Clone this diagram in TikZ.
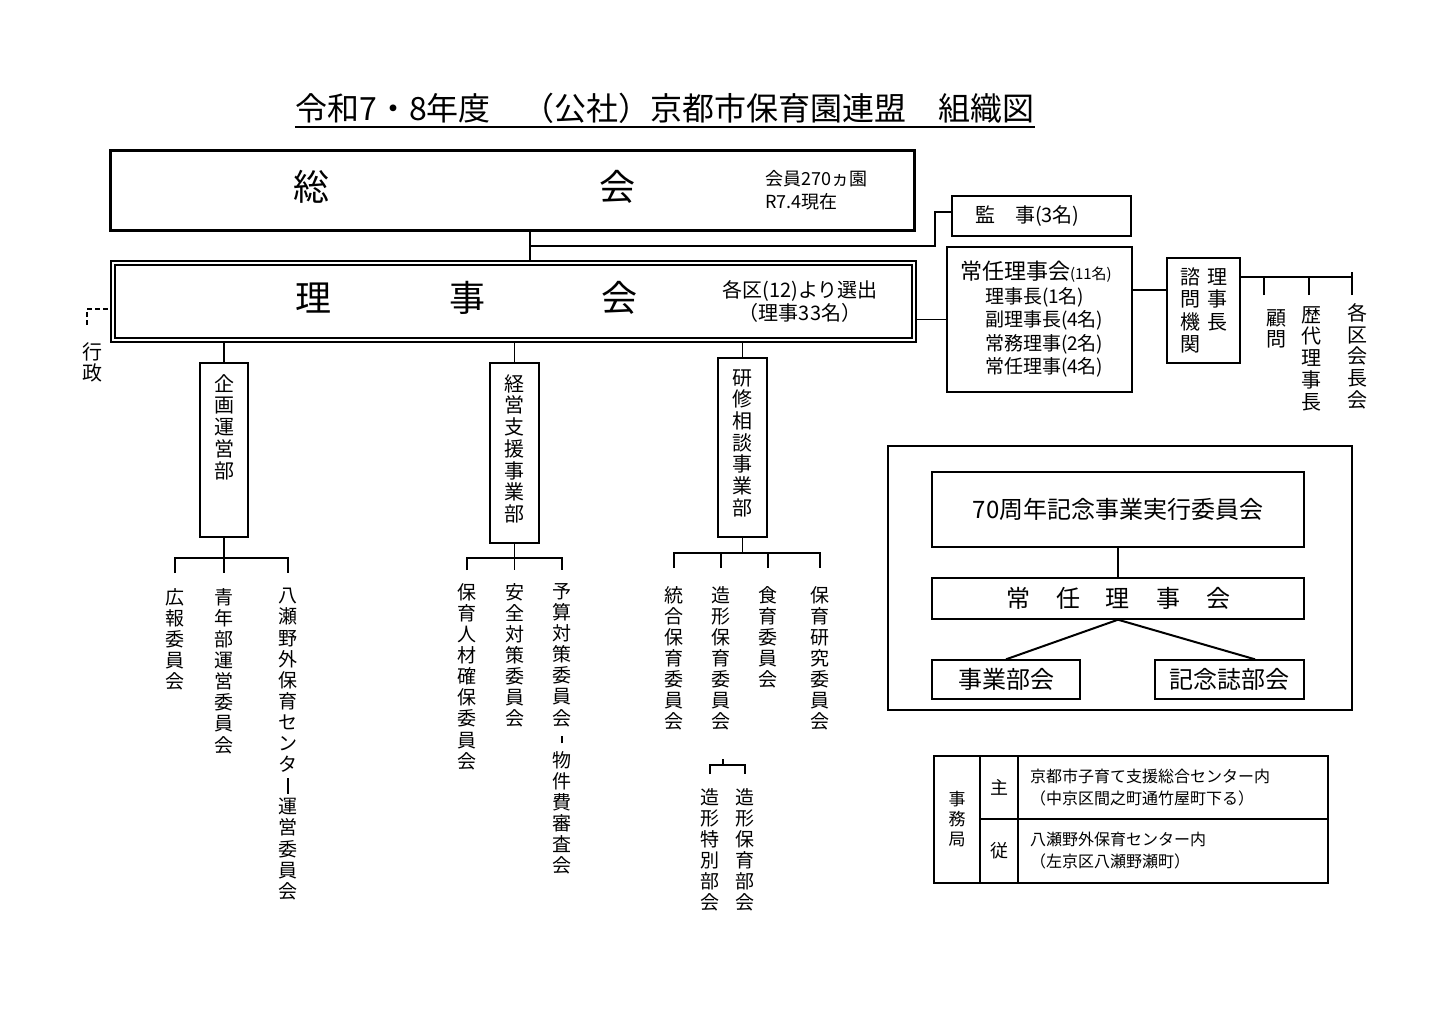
\documentclass[tikz,border=0pt]{standalone}
\usepackage{fontspec}
\usepackage{graphicx}
\setmainfont{Noto Sans CJK JP}
\usetikzlibrary{positioning}

% vertical forms for tategaki labels
\newcommand{\tbar}{\rule[-0.05em]{0.07em}{0.85em}}
\newcommand{\tdash}{\rule[0.15em]{0.07em}{0.4em}}

\tikzset{
  conn/.style={line width=0.8pt},
  hbox/.style={draw, line width=1.5pt},
  dbox/.style={draw, line width=0.8pt, double, double distance=1.4pt, outer sep=1.5pt},
  bbox/.style={draw, line width=1pt},
  tbox/.style={draw, line width=0.7pt},
  tate/.style={align=center, anchor=north, font=\fontsize{9.5}{10.55}\selectfont},
  tateb/.style={tate, font=\fontsize{10}{10.85}\selectfont},
  big/.style={font=\fontsize{18}{20}\selectfont},
  mid/.style={font=\fontsize{12}{14}\selectfont},
}

\begin{document}
\begin{tikzpicture}[x=0.5pt, y=-0.5pt, every node/.append style={inner sep=0pt}]
\useasboundingbox (0,0) rectangle (1440,1024);

% title
\node[anchor=base, font=\fontsize{16}{18}\selectfont] (title) at (665,120) {令和7・8年度　（公社）京都市保育園連盟　組織図};
\draw[line width=1pt] ([yshift=-3.5pt]title.base west) -- ([yshift=-3.5pt]title.base east);

% general meeting
\node[hbox, minimum width=402pt, minimum height=40pt] (sokai) at (512,190) {};
\node[big] (sokai1) at (311,187) {総};
\node[big] (sokai2) at (617,187) {会};
\node[anchor=west, align=left, font=\fontsize{9}{11.5}\selectfont] (sokainote) at (765,190) {会員270ヵ園\\R7.4現在};

% board
\node[dbox, minimum width=400.5pt, minimum height=38.5pt] (riji) at (513.5,301.5) {};
\node[big] (riji1) at (313,298) {理};
\node[big] (riji2) at (467,298) {事};
\node[big] (riji3) at (619,298) {会};
\node[align=center, font=\fontsize{10}{11.5}\selectfont] (rijinote) at (800,301.5) {各区(12)より選出\\（理事33名）};

% auditors and standing board
\node[bbox, minimum height=20pt, text width=66.5pt, inner xsep=11.5pt, align=left, font=\fontsize{10}{12}\selectfont] (kanji) at (1041.5,216) {監　事(3名)};
\node[bbox, minimum height=72.5pt, text width=79.5pt, inner xsep=6.5pt, align=left, font=\fontsize{9.5}{11.75}\selectfont] (jonin) at (1039.5,319.5)
  {{\fontsize{11}{11.75}\selectfont 常任理事会}{\fontsize{7.5}{11.75}\selectfont (11名)}\\
   \hspace*{12.5pt}理事長(1名)\\
   \hspace*{12.5pt}副理事長(4名)\\
   \hspace*{12.5pt}常務理事(2名)\\
   \hspace*{12.5pt}常任理事(4名)};
\node[bbox, minimum width=36.5pt, minimum height=52.5pt, align=center, font=\fontsize{10}{11.25}\selectfont] (shimon) at (1203.5,310.5)
  {諮\hspace{3.5pt}理\\問\hspace{3.5pt}事\\機\hspace{3.5pt}長\\関\hspace{3.5pt}\phantom{長}};

\coordinate (jc) at (530,246);
\draw[conn] (sokai.south -| jc) -- (riji.north -| jc);
\draw[conn] (jc) -| ([xshift=-8pt,yshift=2pt]kanji.west) -- ([yshift=2pt]kanji.west);
\draw[conn] (jonin.west) -- (jonin.west -| riji.east);
\coordinate (sc) at (1150,290);
\draw[conn] (jonin.east |- sc) -- (shimon.west |- sc);

% advisory members
\node[tateb] (komon) at (1276,309) {顧\\問};
\node[tateb] (rekidai) at (1311,306) {歴\\代\\理\\事\\長};
\node[tateb] (kakku) at (1357,303) {各\\区\\会\\長\\会};
\coordinate (sr) at (1352,277);
\coordinate (t1) at (1264,295);
\coordinate (t2) at (1309,295);
\coordinate (t3) at (1352,295);
\draw[conn] (shimon.east |- sr) -- (sr);
\draw[conn] (t1) -- (t1 |- sr);
\draw[conn] (t2) -- (t2 |- sr);
\draw[conn] (t3) -- ([yshift=2.5pt]sr);

% administration
\node[tateb] (gyosei) at (92,342) {行\\政};
\coordinate (gy) at (87,325);
\draw[conn, dash pattern=on 2.5pt off 1.5pt] (gy) |- ([yshift=-3.75pt]riji.west);

% departments
\node[bbox, minimum width=24pt, minimum height=87pt] (kikaku) at (224,450) {};
\node[tateb, below=6pt of kikaku.north] (kikakutxt) {企\\画\\運\\営\\部};
\node[bbox, minimum width=24.5pt, minimum height=90pt] (keiei) at (514.5,453) {};
\node[tateb, below=6pt of keiei.north] (keieitxt) {経\\営\\支\\援\\事\\業\\部};
\node[bbox, minimum width=24.5pt, minimum height=89.5pt] (kenshu) at (742.5,447.5) {};
\node[tateb, below=6pt of kenshu.north] (kenshutxt) {研\\修\\相\\談\\事\\業\\部};
\draw[conn] (kikaku.north) -- (kikaku.north |- riji.south);
\draw[conn] (keiei.north) -- (keiei.north |- riji.south);
\draw[conn] (kenshu.north) -- (kenshu.north |- riji.south);

% committees: planning
\node[tate] (kouhou) at (175,588) {広\\報\\委\\員\\会};
\node[tate] (seinen) at (224,588) {青\\年\\部\\運\\営\\委\\員\\会};
\node[tate] (yase) at (288,588) {八\\瀬\\野\\外\\保\\育\\セ\\ン\\タ\\\tbar\\運\\営\\委\\員\\会};
\coordinate (g1) at (224,558);
\draw[conn] (kikaku.south) -- (g1);
\draw[conn] ([yshift=7.5pt]kouhou.north) |- (g1) -| ([yshift=7.5pt]yase.north);
\draw[conn] (g1) -- ([yshift=7.5pt]seinen.north);

% committees: management support
\node[tate] (jinzai) at (467,583) {保\\育\\人\\材\\確\\保\\委\\員\\会};
\node[tate] (anzen) at (514.5,583) {安\\全\\対\\策\\委\\員\\会};
\node[tate] (yosan) at (562,583) {予\\算\\対\\策\\委\\員\\会\\\tdash\\物\\件\\費\\審\\査\\会};
\coordinate (g2) at (514.5,558);
\draw[conn] (keiei.south) -- (g2);
\draw[conn] ([yshift=6.5pt]jinzai.north) |- (g2) -| ([yshift=6.5pt]yosan.north);
\draw[conn] (g2) -- ([yshift=6.5pt]anzen.north);

% committees: training
\node[tate] (tougou) at (674,586) {統\\合\\保\\育\\委\\員\\会};
\node[tate] (zokei) at (721,586) {造\\形\\保\\育\\委\\員\\会};
\node[tate] (shokuiku) at (768,586) {食\\育\\委\\員\\会};
\node[tate] (kenkyu) at (820,586) {保\\育\\研\\究\\委\\員\\会};
\coordinate (g3) at (742.5,553);
\draw[conn] (kenshu.south) -- (g3);
\draw[conn] ([yshift=9pt]tougou.north) |- (g3) -| ([yshift=9pt]kenkyu.north);
\draw[conn] ([yshift=9pt]zokei.north) -- (zokei.north |- g3);
\draw[conn] ([yshift=9pt]shokuiku.north) -- (shokuiku.north |- g3);

\node[tate] (zokeitoku) at (710,788) {造\\形\\特\\別\\部\\会};
\node[tate] (zokeibu) at (745,788) {造\\形\\保\\育\\部\\会};
\coordinate (zk) at (723,759);
\draw[conn] (zk) -- ++(0,6) coordinate (zk1);
\draw[conn] ([yshift=7pt]zokeitoku.north) |- (zk1) -| ([yshift=7pt]zokeibu.north);

% 70th anniversary
\node[draw, line width=1.2pt, minimum width=232pt, minimum height=132pt] (kinenbox) at (1120,578) {};
\node[tbox, mid, minimum width=186pt, minimum height=37.5pt] (kinen70) at (1118,509.5) {70周年記念事業実行委員会};
\node[tbox, mid, minimum width=186pt, minimum height=20.5pt] (jonin2) at (1118,598.5) {常\hspace{13pt}任\hspace{13pt}理\hspace{13pt}事\hspace{13pt}会};
\node[tbox, mid, minimum width=74pt, minimum height=19.5pt] (jigyo) at (1006,679.5) {事業部会};
\node[tbox, mid, minimum width=74.5pt, minimum height=19.5pt] (kinenshi) at (1229.5,679.5) {記念誌部会};
\draw[line width=1pt] (kinen70.south) -- (jonin2.north);
\draw[line width=1pt] (jigyo.north) -- (jonin2.south) -- ([xshift=12.75pt]kinenshi.north);

% secretariat
\node[tbox, minimum width=23pt, minimum height=63.5pt, align=center, font=\fontsize{8.5}{10}\selectfont] (jimu) at (957,819.5) {事\\務\\局};
\node[tbox, minimum width=19pt, minimum height=31.5pt, font=\fontsize{9}{10}\selectfont] (shu) at (999,787.5) {主};
\node[tbox, minimum width=19pt, minimum height=32pt, font=\fontsize{9}{10}\selectfont] (ju) at (999,851) {従};
\node[tbox, minimum height=31.5pt, text width=143pt, inner xsep=6pt, align=left, font=\fontsize{8}{11}\selectfont] (shuaddr) at (1173,787.5)
  {京都市子育て支援総合センター内\\（中京区間之町通竹屋町下る）};
\node[tbox, minimum height=32pt, text width=143pt, inner xsep=6pt, align=left, font=\fontsize{8}{11}\selectfont] (juaddr) at (1173,851)
  {八瀬野外保育センター内\\（左京区八瀬野瀬町）};
\end{tikzpicture}
\end{document}
